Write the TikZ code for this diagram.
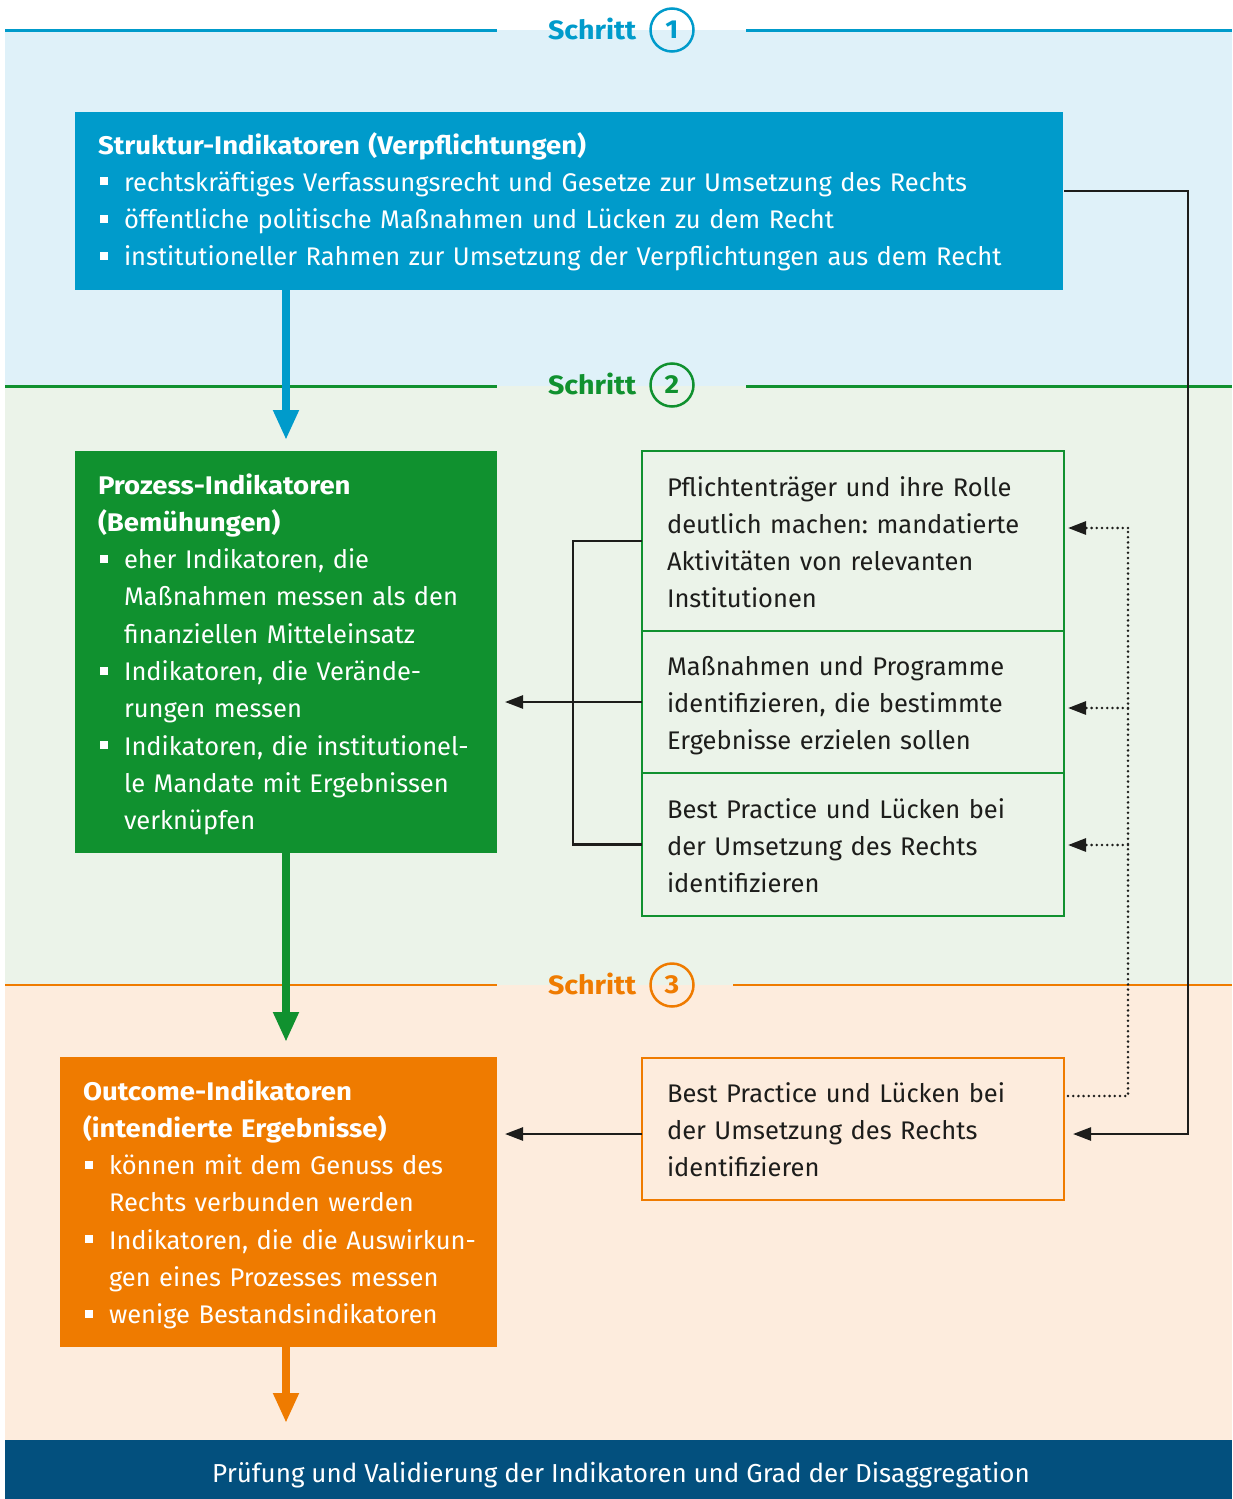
\documentclass[tikz,border=0pt]{standalone}
\usepackage{fontspec}
\setmainfont{Fira Sans}[BoldFeatures={FakeStretch=1.08}]
\usetikzlibrary{arrows.meta}
\definecolor{cBlue}{HTML}{009BCB}
\definecolor{cBlueBg}{HTML}{DFF1F9}
\definecolor{cGreen}{HTML}{10912F}
\definecolor{cGreenBg}{HTML}{EBF3E9}
\definecolor{cOrange}{HTML}{EF7B00}
\definecolor{cOrangeBg}{HTML}{FDECDD}
\definecolor{cNavy}{HTML}{03507E}
\definecolor{cDark}{HTML}{1D1D1B}
\newcommand\bul{\makebox[26pt][l]{\hspace{2pt}\rule[6pt]{8pt}{8pt}}}
\newcommand\ind{\hspace*{26pt}}
\frenchspacing
\begin{document}
\begin{tikzpicture}[x=1pt,y=-1pt,
  every node/.style={inner sep=0pt, outer sep=0pt},
  bodyfont/.style={font=\fontsize{25.5}{37.3}\selectfont\frenchspacing},
  txt/.style={bodyfont, anchor=base west, align=left, text width=#1},
  solidbox/.style={fill=#1, minimum width=0pt, minimum height=0pt},
  framebox/.style={draw=#1, line width=2.5pt},
  stepline/.style={draw=#1, line width=2.2pt},
  steplabel/.style={text=#1, anchor=base west, font=\fontsize{26.5}{30}\selectfont\bfseries},
  stepcirc/.style={circle, draw=#1, text=#1, line width=2.5pt, minimum size=43pt, font=\fontsize{26}{30}\selectfont\bfseries},
  bigarrow/.style={draw=#1, line width=8pt, -{Triangle[width=24pt,length=30pt]}},
  link/.style={draw=cDark, line width=2.5pt, -{Triangle[width=13pt,length=18pt]}},
  plainlink/.style={draw=cDark, line width=2.5pt},
  dotlink/.style={draw=cDark, line width=2.8pt, line cap=round, dash pattern=on 0pt off 5.2pt},
]
\useasboundingbox (0,0) rectangle (1232,1499);
% bands
\fill[white] (0,0) rectangle (1232,1499);
\fill[cBlueBg] (5,30) rectangle (1232,386);
\fill[cGreenBg] (5,386) rectangle (1232,985);
\fill[cOrangeBg] (5,985) rectangle (1232,1440);
\node[fill=cNavy, minimum width=1227pt, minimum height=59pt] (valid) at (618.5,1469.5) {};
\node[font=\fontsize{26}{30}\selectfont, text=white, anchor=base] (validT) at (621,1482) {Prüfung und Validierung der Indikatoren und Grad der Disaggregation};

% step lines
\draw[stepline=cBlue] (5,30.5) -- (497,30.5) (746,30.5) -- (1232,30.5);
\draw[stepline=cGreen] (5,386.5) -- (497,386.5) (746,386.5) -- (1232,386.5);
\draw[stepline=cOrange] (5,985) -- (497,985) (733,985) -- (1232,985);
\node[steplabel=cBlue] (s1) at (548,39.5) {Schritt};
\node[stepcirc=cBlue] (c1) at (672,30) {1};
\node[steplabel=cGreen] (s2) at (548,394) {Schritt};
\node[stepcirc=cGreen] (c2) at (672,385) {2};
\node[steplabel=cOrange] (s3) at (548,994) {Schritt};
\node[stepcirc=cOrange] (c3) at (672,985) {3};

% boxes
\node[solidbox=cBlue, minimum width=988pt, minimum height=178pt] (struct) at (569,201) {};
\node[solidbox=cGreen, minimum width=422pt, minimum height=402pt] (proc) at (286,652) {};
\node[solidbox=cOrange, minimum width=437pt, minimum height=290pt] (outc) at (278.5,1202) {};
\node[framebox=cGreen, minimum width=422pt, minimum height=180pt] (r1) at (853,541) {};
\node[framebox=cGreen, minimum width=422pt, minimum height=142pt] (r2) at (853,702) {};
\node[framebox=cGreen, minimum width=422pt, minimum height=143pt] (r3) at (853,844.5) {};
\node[framebox=cOrange, minimum width=422pt, minimum height=142pt] (r4) at (853,1129) {};

% texts
\node[txt=980pt, text=white] (structT) at (98,154) {\textbf{Struktur-Indikatoren (Verpflichtungen)}\\
\bul rechtskräftiges Verfassungsrecht und Gesetze zur Umsetzung des Rechts\\
\bul öffentliche politische Maßnahmen und Lücken zu dem Recht\\
\bul institutioneller Rahmen zur Umsetzung der Verpflichtungen aus dem Recht};
\node[txt=440pt, text=white] (procT) at (98,494) {\textbf{Prozess-Indikatoren}\\
\textbf{(Bemühungen)}\\
\bul eher Indikatoren, die\\
\ind Maßnahmen messen als den\\
\ind finanziellen Mitteleinsatz\\
\bul Indikatoren, die Verände-\\
\ind rungen messen\\
\bul Indikatoren, die institutionel-\\
\ind le Mandate mit Ergebnissen\\
\ind verknüpfen};
\node[txt=440pt, text=white] (outcT) at (83,1100) {\textbf{Outcome-Indikatoren}\\
\textbf{(intendierte Ergebnisse)}\\
\bul können mit dem Genuss des\\
\ind Rechts verbunden werden\\
\bul Indikatoren, die die Auswirkun-\\
\ind gen eines Prozesses messen\\
\bul wenige Bestandsindikatoren};
\node[txt=420pt, text=cDark] (r1T) at (667,496) {Pflichtenträger und ihre Rolle\\
deutlich machen: mandatierte\\
Aktivitäten von relevanten\\
Institutionen};
\node[txt=420pt, text=cDark] (r2T) at (667,675) {Maßnahmen und Programme\\
identifizieren, die bestimmte\\
Ergebnisse erzielen sollen};
\node[txt=420pt, text=cDark] (r3T) at (667,818) {Best Practice und Lücken bei\\
der Umsetzung des Rechts\\
identifizieren};
\node[txt=420pt, text=cDark] (r4T) at (667,1102) {Best Practice und Lücken bei\\
der Umsetzung des Rechts\\
identifizieren};

% big arrows
\draw[bigarrow=cBlue, shorten >=11pt] (struct.south -| proc.north) -- (proc.north);
\draw[bigarrow=cGreen, shorten >=15pt] (proc.south) -- (outc.north -| proc.south);
\draw[bigarrow=cOrange, shorten >=17pt] (outc.south -| proc.south) -- (valid.north -| proc.south);

% bracket
\coordinate (bx) at (573,0);
\draw[plainlink] (r1.west) -- (r1.west -| bx) -- (r3.west -| bx) -- (r3.west);
\draw[link, shorten >=8pt] (r2.west) -- (r2.west -| proc.east);

% orange link
\coordinate (r4in) at (642,1134);
\draw[link, shorten >=8pt] (r4in) -- (r4in -| outc.east);

% long solid
\coordinate (sOut) at (1064,191);
\coordinate (sx) at (1188,0);
\coordinate (r4e) at (1064,1134);
\draw[link, shorten >=9pt] (sOut) -- (sOut -| sx) -- (r4e -| sx) -- (r4e);

% dotted feedback
\coordinate (dStart) at (1068,1096);
\coordinate (dx) at (1128,0);
\coordinate (e1) at (1064,528);
\coordinate (e2) at (1064,708);
\coordinate (e3) at (1064,845);
\draw[dotlink] (dStart) -- (dStart -| dx) -- (e1 -| dx);
\draw[dotlink, -{Triangle[width=13pt,length=18pt]}, shorten >=4pt] (e1 -| dx) -- (e1);
\draw[dotlink, -{Triangle[width=13pt,length=18pt]}, shorten >=4pt] (e2 -| dx) -- (e2);
\draw[dotlink, -{Triangle[width=13pt,length=18pt]}, shorten >=4pt] (e3 -| dx) -- (e3);
\end{tikzpicture}
\end{document}
